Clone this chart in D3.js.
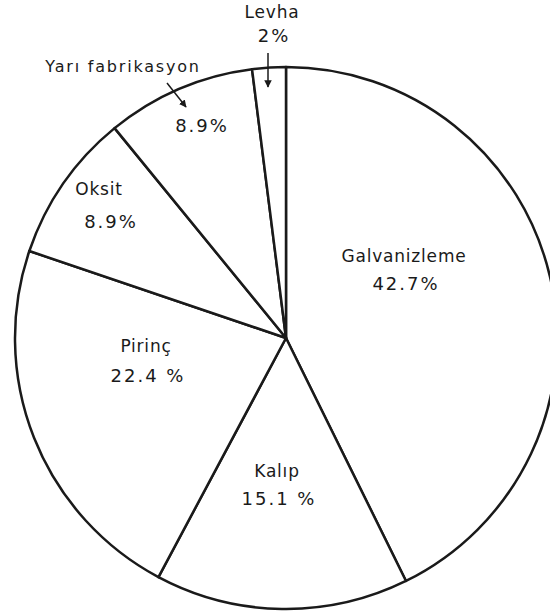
<!DOCTYPE html>
<html>
<head>
<meta charset="utf-8">
<script src="https://cdn.jsdelivr.net/npm/d3@7"></script>
<style>
  body { margin: 0; background: #fff; }
  svg { display: block; }
  text { font-family: "DejaVu Sans", sans-serif; fill: #1a1a1a; }
</style>
</head>
<body>
<div class="container"></div>
<script>
// slices, clockwise from 12 o'clock
var categories = ["Galvanizleme", "Kalıp", "Pirinç", "Oksit", "Yarı fabrikasyon", "Levha"];
var shares = [42.7, 15.1, 22.4, 8.9, 8.9, 2];
var shareLabels = ["42.7%", "15.1 %", "22.4 %", "8.9%", "8.9%", "2%"];

// where each label sits (name line, value line), px from the top-left
var labelAt = [
  [[404, 262], [406, 290]],
  [[277, 477], [279, 505]],
  [[146, 352], [148, 382]],
  [[99, 195], [111, 228]],
  [[123, 72], [202, 132]],
  [[272, 18], [274, 42]]
];
// pointer arrows for the small slices
var arrows = [
  [[167, 83], [186, 107]],
  [[268, 53], [268, 87]]
];

var width = 550, height = 612;
var cx = 286, cy = 338, radius = 271;

var svg = d3.select('.container')
    .append('svg').attr('width', width).attr('height', height);

svg.append('defs').append('marker')
    .attr('id', 'head')
    .attr('viewBox', '0 0 10 10')
    .attr('refX', 9).attr('refY', 5)
    .attr('markerWidth', 5).attr('markerHeight', 6)
    .attr('orient', 'auto')
  .append('path')
    .attr('d', 'M0,0L10,5L0,10Z')
    .style('fill', '#1a1a1a');

var pie = d3.pie().sort(null).value(function(d) { return d; });
var arc = d3.arc().innerRadius(0).outerRadius(radius);

var g = svg.append('g').attr('transform', 'translate(' + cx + ',' + cy + ')');

g.selectAll('path')
    .data(pie(shares))
  .enter().append('path')
    .attr('d', arc)
    .style('fill', '#fff')
    .style('stroke', '#1a1a1a')
    .style('stroke-width', 2.5)
    .style('stroke-linejoin', 'round');

var labels = svg.append('g').attr('text-anchor', 'middle');

categories.forEach(function(name, i) {
  var small = i === 4;
  labels.append('text')
    .attr('x', labelAt[i][0][0]).attr('y', labelAt[i][0][1])
    .style('font-size', small ? '16px' : '17px')
    .style('letter-spacing', small ? '1.8px' : '0.8px')
    .text(name);
  labels.append('text')
    .attr('x', labelAt[i][1][0]).attr('y', labelAt[i][1][1])
    .style('font-size', '18px')
    .style('letter-spacing', '2px')
    .text(shareLabels[i]);
});

svg.selectAll('line.arrow')
    .data(arrows)
  .enter().append('line')
    .attr('class', 'arrow')
    .attr('x1', function(d) { return d[0][0]; })
    .attr('y1', function(d) { return d[0][1]; })
    .attr('x2', function(d) { return d[1][0]; })
    .attr('y2', function(d) { return d[1][1]; })
    .style('stroke', '#1a1a1a')
    .style('stroke-width', 1.5)
    .attr('marker-end', 'url(#head)');
</script>
</body>
</html>
